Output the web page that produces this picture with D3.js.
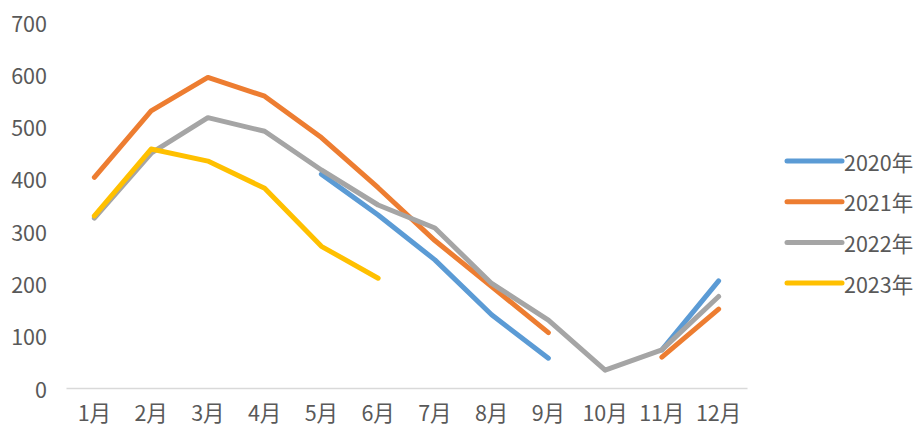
<!DOCTYPE html>
<html lang="zh">
<head>
<meta charset="utf-8">
<title>月度折线</title>
<script src="https://d3js.org/d3.v7.min.js"></script>
<style>
  body { margin: 0; background: #fff; }
  text { font-family: "Noto Sans CJK JP", "Noto Sans CJK SC", sans-serif; fill: #595959; }
</style>
</head>
<body>
<div id="main"></div>
<script>
var months = ["1月","2月","3月","4月","5月","6月","7月","8月","9月","10月","11月","12月"];
var yTicks = [0, 100, 200, 300, 400, 500, 600, 700];
var seriesNames = ["2020年", "2021年", "2022年", "2023年"];
var colors = ["#5B9BD5", "#ED7D31", "#A5A5A5", "#FFC000"];
var v2020 = [null, null, null, null, 409, 331, 245, 140, 57, null, 73, 205];
var v2021 = [403, 530, 594, 558, 479, 383, 282, 194, 106, null, 59, 151];
var v2022 = [325, 449, 517, 491, 417, 350, 306, 200, 130, 34, 73, 175];
var v2023 = [329, 457, 434, 382, 271, 210, null, null, null, null, null, null];

var width = 923, height = 430;
var svg = d3.select("#main").append("svg")
    .attr("width", width)
    .attr("height", height);

var x = d3.scaleBand().domain(months).range([66, 747]);
var y = d3.scaleLinear().domain([0, 700]).range([388, 22]);

// y labels (no axis line, no gridlines)
svg.append("g").selectAll("text")
    .data(yTicks)
    .enter().append("text")
    .attr("x", 47)
    .attr("y", function(d){ return y(d); })
    .attr("text-anchor", "end")
    .attr("dominant-baseline", "central")
    .style("font-size", "21.5px")
    .text(function(d){ return d; });

// x axis
var xAxis = svg.append("g")
    .attr("transform", "translate(0," + y(0) + ")")
    .call(d3.axisBottom(x).tickSize(0).tickPadding(18));
xAxis.select(".domain").attr("stroke", "#d9d9d9").attr("stroke-width", 1.5);
xAxis.selectAll("text").style("font-size", "21.5px").attr("fill", "#595959")
    .attr("font-family", null);

var line = d3.line()
    .defined(function(d){ return d != null; })
    .x(function(d, i){ return x(months[i]) + x.bandwidth() / 2; })
    .y(function(d){ return y(d); });

var all = [v2020, v2021, v2022, v2023];
svg.append("g").selectAll("path")
    .data(all)
    .enter().append("path")
    .attr("d", line)
    .attr("fill", "none")
    .attr("stroke", function(d, i){ return colors[i]; })
    .attr("stroke-width", 5)
    .attr("stroke-linecap", "round")
    .attr("stroke-linejoin", "round");

// legend
var leg = svg.append("g").selectAll("g")
    .data(seriesNames)
    .enter().append("g")
    .attr("transform", function(d, i){ return "translate(787," + (161 + i * 40.7) + ")"; });
leg.append("line")
    .attr("x1", 0).attr("x2", 55)
    .attr("stroke", function(d, i){ return colors[i]; })
    .attr("stroke-width", 5)
    .attr("stroke-linecap", "round");
leg.append("text")
    .attr("x", 57)
    .attr("dominant-baseline", "central")
    .style("font-size", "21.5px")
    .text(function(d){ return d; });
</script>
</body>
</html>
